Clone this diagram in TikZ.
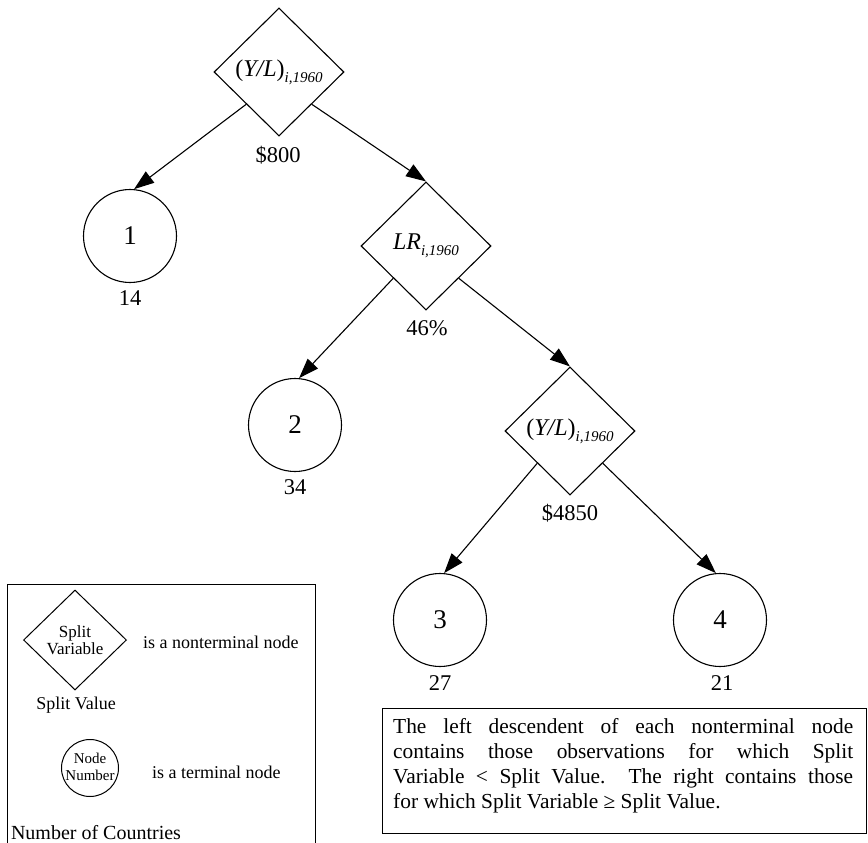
\documentclass[tikz,border=0pt]{standalone}
\usepackage{fontspec}
\setmainfont{Liberation Serif}
\usetikzlibrary{shapes.geometric,arrows.meta,calc}
\newcommand{\ylvar}{\fontsize{24}{24}\selectfont(\textit{Y/L})\raisebox{-6pt}{\fontsize{15}{15}\selectfont\textit{i,1960}}}
\newcommand{\lrvar}{\fontsize{24}{24}\selectfont\textit{LR}\raisebox{-6pt}{\fontsize{15}{15}\selectfont\textit{i,1960}}}
\tikzset{
  split/.style={diamond, draw, line width=1.1pt, minimum width=130pt, minimum height=128pt, inner sep=0pt},
  leaf/.style={circle, draw, line width=1.1pt, minimum size=93pt, inner sep=0pt, font=\fontsize{27}{27}\selectfont},
  lbl/.style={font=\fontsize{22.5}{22.5}\selectfont, inner sep=0pt},
  edge/.style={line width=1.1pt, -{Triangle[length=20pt,width=14pt]}},
  legtxt/.style={font=\fontsize{18}{18}\selectfont, inner sep=0pt},
  frame/.style={line width=1pt}
}
\begin{document}
\begin{tikzpicture}[x=1pt,y=-1pt]
\useasboundingbox (0,0) rectangle (868,843);
% tree
\node[split] (d1) at (279,72) {\ylvar};
\node[lbl] (v1) at (278,155) {\$800};
\node[leaf] (c1) at (130,236) {1};
\node[lbl] (n1) at (130,298) {14};
\node[split] (d2) at (426,246) {\lrvar};
\node[lbl] (v2) at (427,328) {46\%};
\node[leaf] (c2) at (295,425) {2};
\node[lbl] (n2) at (295,487) {34};
\node[split] (d3) at (570,431) {\ylvar};
\node[lbl] (v3) at (570,513) {\$4850};
\node[leaf] (c3) at (440,620) {3};
\node[lbl] (n3) at (440,683) {27};
\node[leaf] (c4) at (720,620) {4};
\node[lbl] (n4) at (722,683) {21};
\draw[edge] ($(d1.west)!0.5!(d1.south)$) -- (c1.85);
\draw[edge] ($(d1.east)!0.5!(d1.south)$) -- (d2.north);
\draw[edge] ($(d2.west)!0.5!(d2.south)$) -- (c2.85);
\draw[edge] ($(d2.east)!0.5!(d2.south)$) -- (d3.north);
\draw[edge] ($(d3.west)!0.5!(d3.south)$) -- (c3.85);
\draw[edge] ($(d3.east)!0.5!(d3.south)$) -- (c4.95);
% legend
\coordinate (lb1) at (7,843);
\coordinate (lb2) at (7,584);
\coordinate (lb3) at (315,584);
\coordinate (lb4) at (315,843);
\draw[frame] (lb1) -- (lb2) -- (lb3) -- (lb4);
\node[diamond, draw, line width=1pt, minimum width=103pt, minimum height=100pt, inner sep=0pt] (ld) at (75,640) {};
\node[align=center, font=\fontsize{17}{17}\selectfont, inner sep=0pt] (ldt) at (ld) {Split\\Variable};
\node[legtxt, anchor=west] (ldx) at (143,642) {is a nonterminal node};
\node[legtxt] (ldv) at (76,705) {Split Value};
\node[circle, draw, line width=1pt, minimum size=57pt, inner sep=0pt] (lc) at (90,768) {};
\node[align=center, font=\fontsize{15}{17}\selectfont, inner sep=0pt] (lct) at (90,767) {Node\\Number};
\node[legtxt, anchor=west] (lcx) at (152,772) {is a terminal node};
\node[font=\fontsize{20}{20}\selectfont, inner sep=0pt] (lcn) at (96,833) {Number of Countries};
% note box
\node[draw, line width=1pt, minimum width=484pt, minimum height=125pt, inner sep=0pt] (box) at (624,770.5) {};
\node[anchor=north west, inner sep=0pt, text width=460pt, align=justify, font=\fontsize{21.4}{25}\selectfont] (note) at (393,718) {%
\makebox[460pt][s]{The left descendent of each nonterminal node}\\
\makebox[460pt][s]{contains those observations for which Split}\\
\makebox[460pt][s]{Variable < Split Value.\ \ The right contains those}\\
for which Split Variable ≥ Split Value.};
\end{tikzpicture}
\end{document}
